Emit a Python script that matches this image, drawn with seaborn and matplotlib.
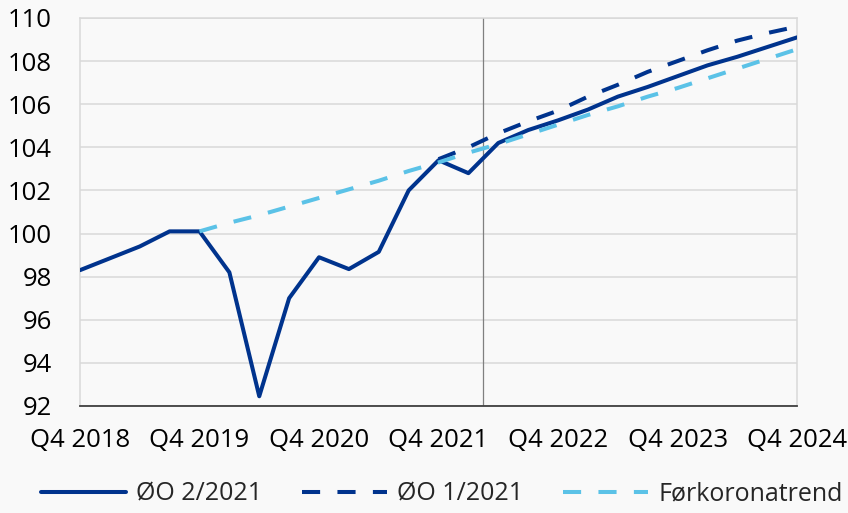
import matplotlib
matplotlib.use("Agg")
import numpy as np
import pandas as pd
import matplotlib.pyplot as plt
import seaborn as sns

# ── DATA ───────────────────────────────────────────────────
# kvartal-indeks 0 = Q4 2018 ... 24 = Q4 2024
kvartaler = list(range(25))
ticks_pos = [0, 4, 8, 12, 16, 20, 24]
ticks_lab = ["Q4 2018", "Q4 2019", "Q4 2020", "Q4 2021", "Q4 2022", "Q4 2023", "Q4 2024"]

oo2_2021 = [98.3, 98.85, 99.4, 100.1, 100.1, 98.2, 92.45, 97.0, 98.9, 98.35, 99.15,
            102.0, 103.4, 102.8, 104.2, 104.8, 105.25, 105.75, 106.35, 106.8, 107.3,
            107.8, 108.2, 108.65, 109.1]
oo1_start = 12
oo1_2021 = [103.45, 104.0, 104.65, 105.2, 105.7, 106.35, 106.9, 107.5, 108.0,
            108.5, 108.95, 109.3, 109.6]
trend_start = 4
forkorona = [100.1, 100.5, 100.85, 101.25, 101.65, 102.05, 102.45, 102.9, 103.3,
             103.75, 104.15, 104.6, 105.05, 105.5, 105.9, 106.35, 106.75, 107.2,
             107.65, 108.1, 108.55]
prognose_start = 13.5

serier = ["ØO 2/2021", "ØO 1/2021", "Førkoronatrend"]

df = pd.concat([
    pd.DataFrame({"kvartal": kvartaler, "verdi": oo2_2021, "serie": serier[0]}),
    pd.DataFrame({"kvartal": kvartaler[oo1_start:], "verdi": oo1_2021, "serie": serier[1]}),
    pd.DataFrame({"kvartal": kvartaler[trend_start:], "verdi": forkorona, "serie": serier[2]}),
], ignore_index=True)

# ── STIL ───────────────────────────────────────────────────
bg = "#f9f9f9"
fs = 18.5
fs_leg = 18
sns.set_theme(style="white")
plt.rcParams["font.family"] = ["Open Sans", "DejaVu Sans"]

farger = {serier[0]: "#00338d", serier[1]: "#00338d", serier[2]: "#5bc2e7"}
streker = {serier[0]: "", serier[1]: (4.5, 4.3), serier[2]: (4.5, 4.3)}

fig = plt.figure(figsize=(8.48, 5.13), dpi=100, facecolor=bg)
ax = fig.add_axes([0.0943, 0.2086, 0.8457, 0.7564])
ax.set_facecolor(bg)

sns.lineplot(data=df, x="kvartal", y="verdi", hue="serie", style="serie",
             hue_order=serier, style_order=serier, palette=farger, dashes=streker,
             linewidth=2.9, legend=False, ax=ax, zorder=3)

ax.axvline(prognose_start, color="#808080", linewidth=0.9, zorder=2)

ax.set_xlim(0, 24)
ax.set_ylim(92, 110)
ax.set_yticks(np.arange(92, 111, 2))
ax.set_xticks(ticks_pos)
ax.set_xticklabels(ticks_lab)
ax.set_xlabel("")
ax.set_ylabel("")
ax.grid(axis="y", color="#d9d9d9", linewidth=1.1, zorder=0)
ax.grid(axis="x", visible=False)

for side in ["left", "right", "top"]:
    ax.spines[side].set_color("#d9d9d9")
    ax.spines[side].set_linewidth(1.1)
ax.spines["bottom"].set_color("#404040")
ax.spines["bottom"].set_linewidth(1.3)

ax.tick_params(axis="x", direction="in", length=7, width=1.3, color="#404040",
               labelsize=fs, pad=16, labelcolor="black")
ax.tick_params(axis="y", length=0, labelsize=fs, pad=20, labelcolor="black")

handles = ax.get_lines()[:3]
leg = fig.legend(handles, serier, loc="center", bbox_to_anchor=(0.521, 0.037),
                 ncol=3, frameon=False, fontsize=fs_leg, handlelength=3.4,
                 handletextpad=0.4, columnspacing=1.6)

fig.savefig("out.png", dpi=100, facecolor=bg)
